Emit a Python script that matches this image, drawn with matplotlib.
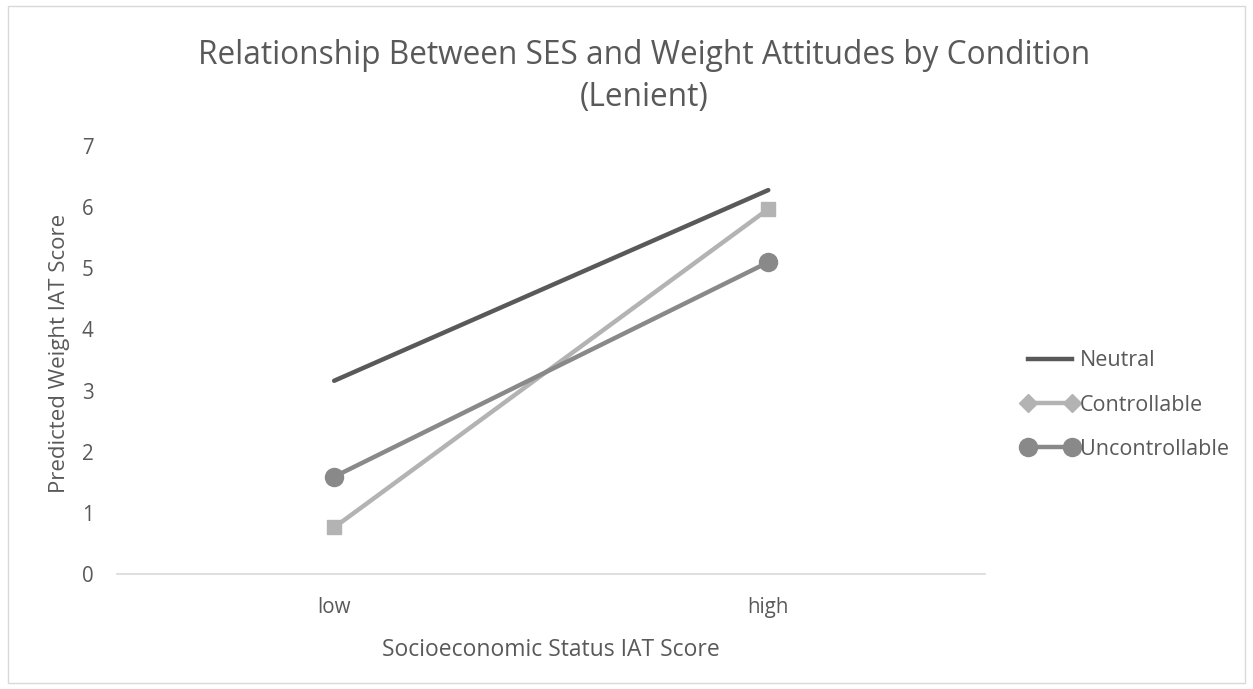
import matplotlib
matplotlib.use("Agg")
import matplotlib.pyplot as plt
from matplotlib.lines import Line2D
from matplotlib.patches import Rectangle

plt.rcParams['font.family'] = ['Open Sans', 'DejaVu Sans']

categories = ['low', 'high']
neutral = [3.16, 6.28]
controllable = [0.76, 5.97]
uncontrollable = [1.59, 5.10]

series_names = ['Neutral', 'Controllable', 'Uncontrollable']
colors = ['#595959', '#b3b3b3', '#898989']

fig = plt.figure(figsize=(12.53, 6.89), dpi=100)
ax = fig.add_axes([0.0934, 0.167, 0.693, 0.621])

x = [0.5, 1.5]
ax.plot(x, neutral, color=colors[0], lw=3.2, solid_capstyle='round')
ax.plot(x, controllable, color=colors[1], lw=3.2, marker='s', ms=9.5,
        solid_capstyle='round')
ax.plot(x, uncontrollable, color=colors[2], lw=3.2, marker='o', ms=13,
        solid_capstyle='round')

ax.set_xlim(0, 2)
ax.set_ylim(0, 7)
ax.set_xticks(x)
ax.set_xticklabels(categories)
ax.set_yticks(range(0, 8))

for s in ['top', 'right', 'left']:
    ax.spines[s].set_visible(False)
ax.spines['bottom'].set_color('#d9d9d9')
ax.spines['bottom'].set_linewidth(1.2)
ax.tick_params(length=0, labelsize=14.8, colors='#595959')
ax.tick_params(axis='x', pad=16.5)
ax.tick_params(axis='y', pad=17)

ax.set_xlabel('Socioeconomic Status IAT Score', fontsize=16.5,
              color='#595959', labelpad=14.5)
ax.set_ylabel('Predicted Weight IAT Score', fontsize=16,
              color='#595959')
ax.yaxis.set_label_coords(-0.054, 0.515)

fig.text(0.514, 0.889,
         'Relationship Between SES and Weight Attitudes by Condition\n(Lenient)',
         ha='center', va='center', fontsize=22.8, color='#595959',
         linespacing=1.39)

handles = [
    Line2D([], [], color=colors[0], lw=3.2),
    Line2D([], [], color=colors[1], lw=3.2, marker='D', ms=9.5),
    Line2D([], [], color=colors[2], lw=3.2, marker='o', ms=13),
]
leg = fig.legend(handles, series_names, loc='center left',
                 bbox_to_anchor=(0.8, 0.412), frameon=False,
                 fontsize=15.5, handlelength=2.65, handletextpad=0.05,
                 labelspacing=1.08, numpoints=2, labelcolor='#595959')

fig.patches.append(Rectangle((0.006, 0.008), 0.988, 0.984,
                             transform=fig.transFigure, fill=False,
                             edgecolor='#d9d9d9', lw=1))

fig.savefig('out.png', dpi=100)
